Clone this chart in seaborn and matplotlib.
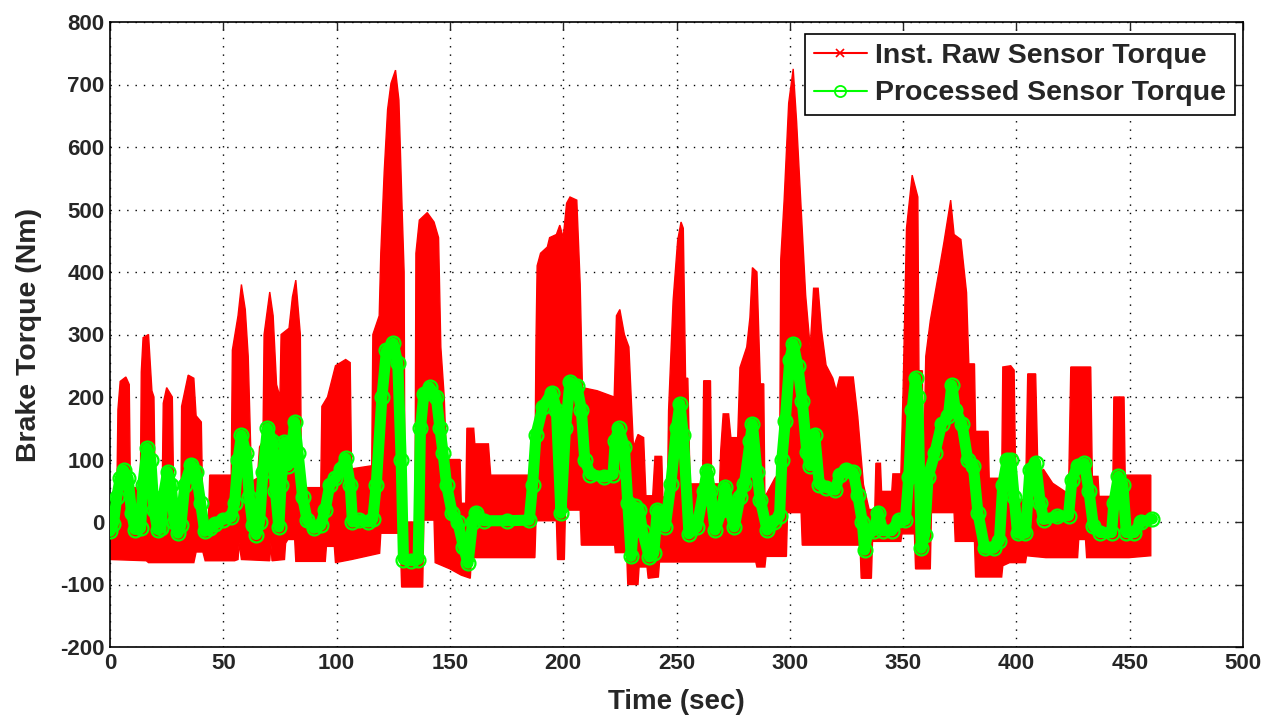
import numpy as np
import pandas as pd
import matplotlib
matplotlib.use("Agg")
import matplotlib.pyplot as plt
from matplotlib.lines import Line2D
import seaborn as sns

# ---------------- data ----------------
# upper envelope of the raw (instantaneous) sensor torque
hi_t = [0, 3, 3.5, 4.5, 7, 8.5, 9, 13.4, 13.8, 14.6, 17, 18.5, 19.4, 20, 23, 23.5, 25, 27.5, 28.2,
        31.3, 31.6, 34.5, 37, 38, 40.3, 41, 43.5, 44, 53.5, 54, 56.5, 58, 59.7, 61, 62.5, 65, 66,
        67.5, 68, 70.5, 72, 73.5, 75, 75.5, 79, 80.5, 82, 84, 84.5, 93, 93.5, 96, 99.5, 104, 106,
        106.6, 115.5, 116, 118.8, 119.5, 121, 122.5, 124, 126, 127.5, 129, 129.8, 130.2, 134.6,
        135, 136.5, 140, 143, 145, 146, 147.5, 148.5, 154.5, 155, 157, 157.5, 160.5, 161, 167,
        168, 187.5, 188, 188.5, 190, 193, 194, 197, 198.5, 200, 201.5, 203, 206, 207.5, 208.5,
        215, 222.5, 223.5, 225, 227, 229, 231, 233, 235.5, 236.5, 239.5, 240.5, 243.5, 244, 246,
        246.5, 248.5, 250.5, 252, 253, 254, 255, 256, 261.5, 262, 265, 265.5, 269, 269.5, 270.6,
        273, 274, 277, 278, 281, 282.4, 283.5, 285.5, 287, 288.5, 289, 293.4, 295.5, 296, 297.5,
        299.5, 301.5, 303, 305, 307, 309, 310.5, 312.5, 314, 316, 319, 320.5, 322, 328, 330,
        332.5, 335, 337.5, 338, 340, 340.5, 345, 345.5, 349, 350, 351.5, 354, 356.5, 357, 358.5,
        359, 360, 362, 365, 368, 371, 372.5, 375.5, 378, 379, 381.5, 382, 387.5, 388, 393.5, 394,
        397.5, 399, 399.5, 400.5, 404, 405, 408.5, 409.5, 412, 416, 423, 424, 432.8, 433.5, 436,
        436.5, 442.5, 443, 447.5, 448, 459.3]
hi_v = [35, 40, 180, 225, 232, 220, 55, 55, 240, 295, 300, 210, 200, 40, 40, 190, 215, 200, 20,
        20, 185, 235, 230, 170, 160, 10, 10, 75, 75, 275, 330, 380, 340, 265, 65, 70, 120,
        130, 300, 368, 330, 220, 200, 300, 310, 360, 387, 300, 55, 55, 185, 200, 250, 260, 255,
        85, 90, 300, 330, 430, 560, 660, 702, 723, 675, 490, 400, 0, 0,
        430, 483, 495, 480, 455, 280, 200, 100, 100, 30, 30, 150, 150, 125, 125,
        75, 75, 290, 410, 430, 440, 455, 460, 475, 455, 510, 520, 515, 380, 215,
        210, 200, 330, 340, 300, 280, 120, 140, 135, 42, 42, 105, 105, 40, 40,
        178, 354, 450, 480, 470, 230, 230, 61, 61, 226, 226, 61, 61, 114, 173,
        173, 135, 135, 247, 280, 327, 407, 400, 221, 221, 40, 70, 80, 420, 515,
        670, 725, 641, 502, 363, 279, 374, 374, 307, 251, 230, 210, 232, 232, 168,
        60, 20, 20, 94, 94, 49, 49, 77, 77, 210, 470, 555, 520, 242, 242,
        80, 265, 322, 384, 447, 515, 460, 452, 367, 253, 253, 145, 145, 70, 70, 248,
        250, 243, 115, 36, 36, 237, 237, 80, 84, 62, 45, 248, 248, 73, 73,
        41, 41, 200, 200, 75, 75]

# lower envelope of the raw sensor torque
lo_t = [0, 16, 17, 37, 38, 41, 42, 55, 56.5, 57, 58, 70.5, 71, 71.5, 77, 77.5, 78.5, 81.5, 82, 95,
        95.5, 99, 99.5, 106.6, 119, 119.5, 128, 128.7, 138, 138.5, 143, 143.5, 150, 155, 159,
        159.5, 187.5, 188, 197, 197.5, 200.5, 201, 207.5, 208, 222.7, 223, 228, 228.5, 233, 233.5,
        237, 237.5, 242, 242.5, 285, 285.5, 289, 289.5, 298.5, 299, 305, 305.5, 331, 331.5, 336,
        336.5, 349, 349.5, 355, 355.5, 362, 362.5, 372.5, 373, 381.5, 382, 393.5, 394, 397, 404,
        404.5, 413, 427, 427.5, 430.5, 431, 449.7, 459.3]
lo_v = [-60, -62, -65, -65, -48, -48, -62, -62, -60, -34, -60, -62, -34, -62, -60, -34, -28, -28, -63, -63,
        -39, -39, -65, -60, -50, -18, -18, -104, -104, 3, 3, -65, -75, -85, -90,
        -57, -57, 2, 2, -60, -60, 19, 19, -37, -37, -49, -49, -100, -100, -72,
        -72, -90, -88, -64, -64, -72, -72, -55, -55, 15, 15, -37, -37, -90, -90,
        -31, -31, -19, -19, -75, -75, 15, 15, -31, -31, -88, -88, -70, -65, -65,
        -54, -57, -57, -28, -28, -57, -57, -54]

# processed sensor torque
proc_t = [0, 1.5, 3, 4.5, 6, 8, 9.5, 11, 13.5, 14.5, 16.4, 18, 19.4, 21, 22.5, 23.5, 25.4, 27, 28.4,
          30, 31.3, 33, 35.8, 38, 40, 41.8, 44, 46.3, 50, 53.5, 55, 56.5, 58, 60, 61.5, 63, 64.5,
          66, 67.5, 69.5, 71.5, 73, 74.5, 75.5, 77, 78.5, 79.5, 81.5, 83, 85, 87, 90, 93, 95, 97,
          99.5, 102, 104, 106, 107, 110, 114, 116, 117.5, 120, 122, 125, 127, 128.5, 129.5, 133,
          136, 137, 138.5, 141, 144, 145.6, 147, 148.5, 151, 153.5, 156, 158, 160, 161.5, 165,
          175, 185, 186.5, 188, 191, 195, 197, 199, 201, 203, 206, 208, 209.5, 212, 218, 222,
          223, 224.5, 227, 228.5, 230, 231.5, 233.5, 235, 238, 240, 241.5, 243.5, 245, 247.5,
          250, 251.5, 253, 255.5, 259, 262, 263.5, 265, 267, 270, 271.5, 273.5, 275.5, 278, 280,
          282.5, 283.5, 285.5, 287, 290, 293, 295.5, 296.5, 298, 300, 301.5, 303.5, 305.5, 307.5,
          309, 311, 313, 316, 320, 322, 325, 328, 330, 332, 333, 334.5, 337, 339, 341, 345, 348,
          351, 352.5, 354, 355.5, 356.5, 358, 359.5, 361, 364, 367, 370, 371.5, 373, 376, 378.5,
          381, 383, 386, 390, 392.5, 394, 396, 397.5, 399, 400.5, 404, 406, 408.5, 410.5, 412,
          418, 423, 424.5, 427, 430, 432, 434, 437, 442, 443, 445, 447, 448.5, 452, 455, 460]
proc_v = [-15, -3, 40, 70, 83, 70, 15, -12, -10, 60, 118, 100, 20, -12, -10, 40, 80, 60, 0,
          -18, -5, 60, 92, 80, 30, -15, -10, -3, 4, 8, 30, 100, 139, 110, 40, -5, -20,
          0, 80, 150, 130, 50, -8, 60, 128, 90, 100, 160, 110, 40, 3, -10, -5, 20, 60,
          70, 85, 102, 60, 0, 3, 0, 5, 60, 200, 275, 286, 254, 100, -60, -62,
          -60, 150, 205, 216, 200, 150, 110, 60, 14, 0, -40, -66, 0, 15, 2,
          2, 3, 60, 140, 184, 207, 180, 14, 150, 224, 218, 180, 99, 76, 72, 76,
          130, 150, 120, 30, -55, 25, 20, -15, -56, -50, 19, 15, -8, 61,
          150, 189, 140, -19, -8, 50, 82, 50, -13, 20, 56, 20, -8, 40, 61,
          130, 157, 80, 35, -13, 0, 10, 100, 162, 260, 285, 250, 194, 112,
          90, 140, 60, 55, 51, 75, 84, 80, 43, 0, -45, -14, -14, 15, -14, -14, 3,
          3, 72, 180, 230, 200, -42, -20, 72, 110, 157, 170, 219, 180, 157, 100,
          90, 15, -42, -42, -30, 60, 100, 100, 40, -18, -18, 84, 95, 30, 4,
          9, 10, 68, 90, 94, 50, -7, -17, -17, 30, 73, 60, -17, -17, 0, 5]

x_ticks = list(range(0, 501, 50))
y_ticks = list(range(-200, 801, 100))
labels = ["Inst. Raw Sensor Torque", "Processed Sensor Torque"]

assert len(hi_t) == len(hi_v) and len(lo_t) == len(lo_v) and len(proc_t) == len(proc_v)

# ---------------- plotting ----------------
sns.set_style("white")
plt.rcParams['font.family'] = ['Liberation Sans', 'DejaVu Sans']
plt.rcParams['font.weight'] = 'bold'
plt.rcParams['axes.unicode_minus'] = False

fig = plt.figure(figsize=(12.74, 7.17), dpi=100)
ax = fig.add_axes([110 / 1274, 1 - 647 / 717, (1243 - 110) / 1274, (647 - 22) / 717])

RED = "#FF0000"
GREEN = "#00FF00"

# raw signal: dense oscillation shown as the band between its envelopes
poly_x = np.r_[hi_t, lo_t[::-1]]
poly_y = np.r_[hi_v, lo_v[::-1]]
ax.fill(poly_x, poly_y, color=RED, lw=1, edgecolor=RED, zorder=2)

proc = pd.DataFrame({"t": proc_t, "v": proc_v})
sns.lineplot(data=proc, x="t", y="v", ax=ax, sort=False, estimator=None,
             color=GREEN, lw=8, marker="o", markersize=10, markerfacecolor="none",
             markeredgecolor=GREEN, markeredgewidth=1.6, zorder=3,
             solid_joinstyle="round", solid_capstyle="round")

ax.set_xlim(0, 500)
ax.set_ylim(-200, 800)
ax.set_xticks(x_ticks)
ax.set_yticks(y_ticks)
ax.tick_params(direction="in", top=True, right=True, length=6, width=1,
               labelsize=16, pad=4)
for lab in ax.get_xticklabels() + ax.get_yticklabels():
    lab.set_fontweight("bold")
ax.grid(True, linestyle=(0, (1, 5)), color="black", linewidth=1, zorder=0)
ax.set_axisbelow(True)
for sp in ax.spines.values():
    sp.set_color("black")
    sp.set_linewidth(1.2)

ax.set_xlabel("Time (sec)", fontsize=20, fontweight="bold", labelpad=11)
ax.set_ylabel("Brake Torque (Nm)", fontsize=20.5, fontweight="bold", labelpad=13)

handles = [Line2D([0], [0], color=RED, lw=1.5, marker="x", markersize=6, markeredgewidth=1.2),
           Line2D([0], [0], color=GREEN, lw=1.5, marker="o", markersize=8,
                  markerfacecolor="none", markeredgewidth=1.3)]
leg = ax.legend(handles, labels, loc="upper right", bbox_to_anchor=(0.9929, 0.9808),
                fontsize=20.5, frameon=True, fancybox=False, edgecolor="black",
                framealpha=1, borderaxespad=0, handlelength=1.85, labelspacing=0.41,
                borderpad=0.31, handletextpad=0.3)
leg.get_frame().set_linewidth(1.2)
for txt in leg.get_texts():
    txt.set_fontweight("bold")

fig.savefig("out.png", dpi=100)
